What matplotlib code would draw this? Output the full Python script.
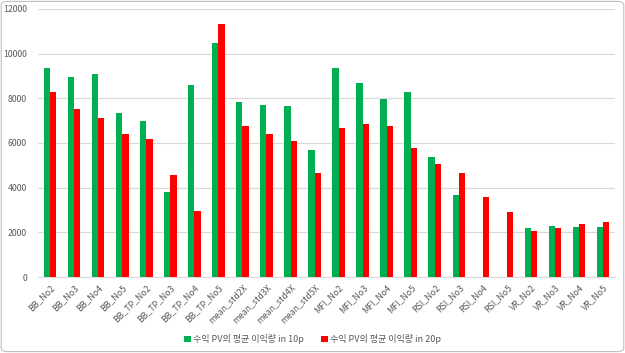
import matplotlib.pyplot as plt
import numpy as np
from matplotlib.patches import FancyBboxPatch

plt.rcParams['font.family'] = ['Noto Sans CJK KR', 'DejaVu Sans']

categories = ["BB_No2", "BB_No3", "BB_No4", "BB_No5",
              "BB_TP_No2", "BB_TP_No3", "BB_TP_No4", "BB_TP_No5",
              "mean_std2X", "mean_std3X", "mean_std4X", "mean_std5X",
              "MFI_No2", "MFI_No3", "MFI_No4", "MFI_No5",
              "RSI_No2", "RSI_No3", "RSI_No4", "RSI_No5",
              "VR_No2", "VR_No3", "VR_No4", "VR_No5"]
pv_10p = [9350, 8940, 9100, 7330, 6990, 3790, 8600, 10480,
          7840, 7700, 7660, 5670, 9350, 8700, 7970, 8300,
          5370, 3660, 0, 0, 2180, 2280, 2220, 2240]
pv_20p = [8270, 7510, 7130, 6390, 6180, 4570, 2960, 11300,
          6760, 6420, 6080, 4670, 6690, 6850, 6760, 5780,
          5080, 4670, 3580, 2900, 2050, 2180, 2390, 2450]
label_10 = "수익 PV의 평균 이익량 in 10p"
label_20 = "수익 PV의 평균 이익량 in 20p"

fig = plt.figure(figsize=(6.25, 3.53), dpi=100)
ax = fig.add_axes([0.061, 0.215, 0.923, 0.76])

x = np.arange(len(categories))
w = 0.26
ax.bar(x - w / 2, pv_10p, w, color="#00B050", label=label_10, zorder=3)
ax.bar(x + w / 2, pv_20p, w, color="#FF0000", label=label_20, zorder=3)

ax.set_xlim(-0.5, len(categories) - 0.5)
ax.set_ylim(0, 12000)
ax.set_yticks(range(0, 12001, 2000))
ax.yaxis.grid(True, color="#D9D9D9", linewidth=0.8, zorder=0)
ax.set_xticks(x)
ax.set_xticklabels(categories, rotation=45, ha="right", rotation_mode="anchor")
ax.tick_params(axis="both", length=0, labelsize=6.3, colors="#595959")
ax.tick_params(axis="y", pad=8)
ax.tick_params(axis="x", pad=4)
for s in ["top", "right", "left"]:
    ax.spines[s].set_visible(False)
ax.spines["bottom"].set_color("#D9D9D9")

fig.legend(loc="center", bbox_to_anchor=(0.5, 0.04), ncol=2, frameon=False,
           fontsize=6.5, handlelength=0.7, handleheight=0.7, handletextpad=0.2,
           columnspacing=2.0, labelcolor="#595959")

# frame of the chart area
fig.patches.append(FancyBboxPatch((0.002, 0.004), 0.996, 0.992,
                                  boxstyle="round,pad=0,rounding_size=0.01",
                                  transform=fig.transFigure, fill=False,
                                  edgecolor="#BFBFBF", linewidth=0.8))

plt.savefig("out.png", dpi=100)
